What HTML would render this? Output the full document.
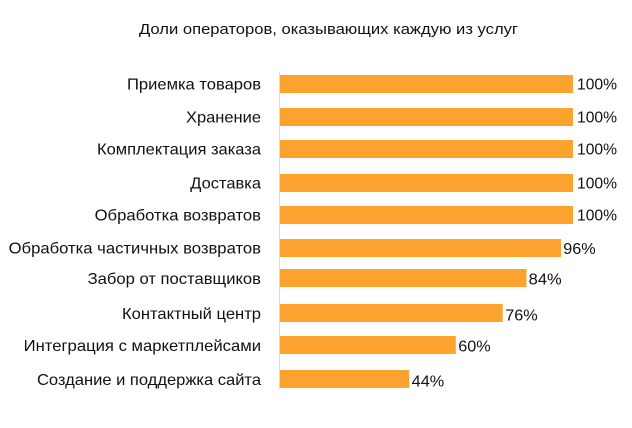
<!DOCTYPE html>
<html><head><meta charset="utf-8"><style>
html,body{margin:0;padding:0;background:#fff;}
svg{display:block;}
text{font-family:"Liberation Sans","DejaVu Sans",sans-serif;fill:#111;}
</style></head><body>
<svg width="632" height="428" viewBox="0 0 632 428" xmlns="http://www.w3.org/2000/svg">
<rect width="632" height="428" fill="#fff"/>
<text x="328.5" y="34" font-size="15" text-anchor="middle" textLength="379" lengthAdjust="spacingAndGlyphs">Доли операторов, оказывающих каждую из услуг</text>
<line x1="279.5" y1="72" x2="279.5" y2="389" stroke="#d8d8e2" stroke-width="1"/>
<g fill="#FCA32F">
<rect x="280" y="75" width="293" height="18"/>
<rect x="280" y="108" width="293" height="18"/>
<rect x="280" y="140" width="293" height="18"/>
<rect x="280" y="174" width="293" height="18"/>
<rect x="280" y="206" width="293" height="18"/>
<rect x="280" y="239" width="281" height="18"/>
<rect x="280" y="269" width="246.5" height="18"/>
<rect x="280" y="304" width="222.7" height="18"/>
<rect x="280" y="336" width="175.8" height="18"/>
<rect x="280" y="370" width="129.2" height="18"/>
</g>
<g font-size="16" text-anchor="end">
<text x="261" y="89.5" textLength="134" lengthAdjust="spacingAndGlyphs">Приемка товаров</text>
<text x="261" y="122.5" textLength="75" lengthAdjust="spacingAndGlyphs">Хранение</text>
<text x="261" y="154.5" textLength="164" lengthAdjust="spacingAndGlyphs">Комплектация заказа</text>
<text x="261" y="188.5" textLength="70.7" lengthAdjust="spacingAndGlyphs">Доставка</text>
<text x="261" y="220.5" textLength="166.4" lengthAdjust="spacingAndGlyphs">Обработка возвратов</text>
<text x="261" y="253.5" textLength="252.4" lengthAdjust="spacingAndGlyphs">Обработка частичных возвратов</text>
<text x="261" y="284" textLength="173.4" lengthAdjust="spacingAndGlyphs">Забор от поставщиков</text>
<text x="261" y="319" textLength="139" lengthAdjust="spacingAndGlyphs">Контактный центр</text>
<text x="261" y="351" textLength="237.4" lengthAdjust="spacingAndGlyphs">Интеграция с маркетплейсами</text>
<text x="261" y="385" textLength="224" lengthAdjust="spacingAndGlyphs">Создание и поддержка сайта</text>
</g>
<g font-size="16">
<text x="577" y="89.5" textLength="40" lengthAdjust="spacingAndGlyphs">100%</text>
<text x="577" y="122.5" textLength="40" lengthAdjust="spacingAndGlyphs">100%</text>
<text x="577" y="154.5" textLength="40" lengthAdjust="spacingAndGlyphs">100%</text>
<text x="577" y="188.5" textLength="40" lengthAdjust="spacingAndGlyphs">100%</text>
<text x="577" y="220.5" textLength="40" lengthAdjust="spacingAndGlyphs">100%</text>
<text x="563.3" y="254" textLength="32.4" lengthAdjust="spacingAndGlyphs">96%</text>
<text x="528.7" y="284.5" textLength="33" lengthAdjust="spacingAndGlyphs">84%</text>
<text x="505.3" y="320.5" textLength="32.4" lengthAdjust="spacingAndGlyphs">76%</text>
<text x="458.3" y="351.5" textLength="32.4" lengthAdjust="spacingAndGlyphs">60%</text>
<text x="411.7" y="386.5" textLength="32.6" lengthAdjust="spacingAndGlyphs">44%</text>
</g>
</svg>
</body></html>
